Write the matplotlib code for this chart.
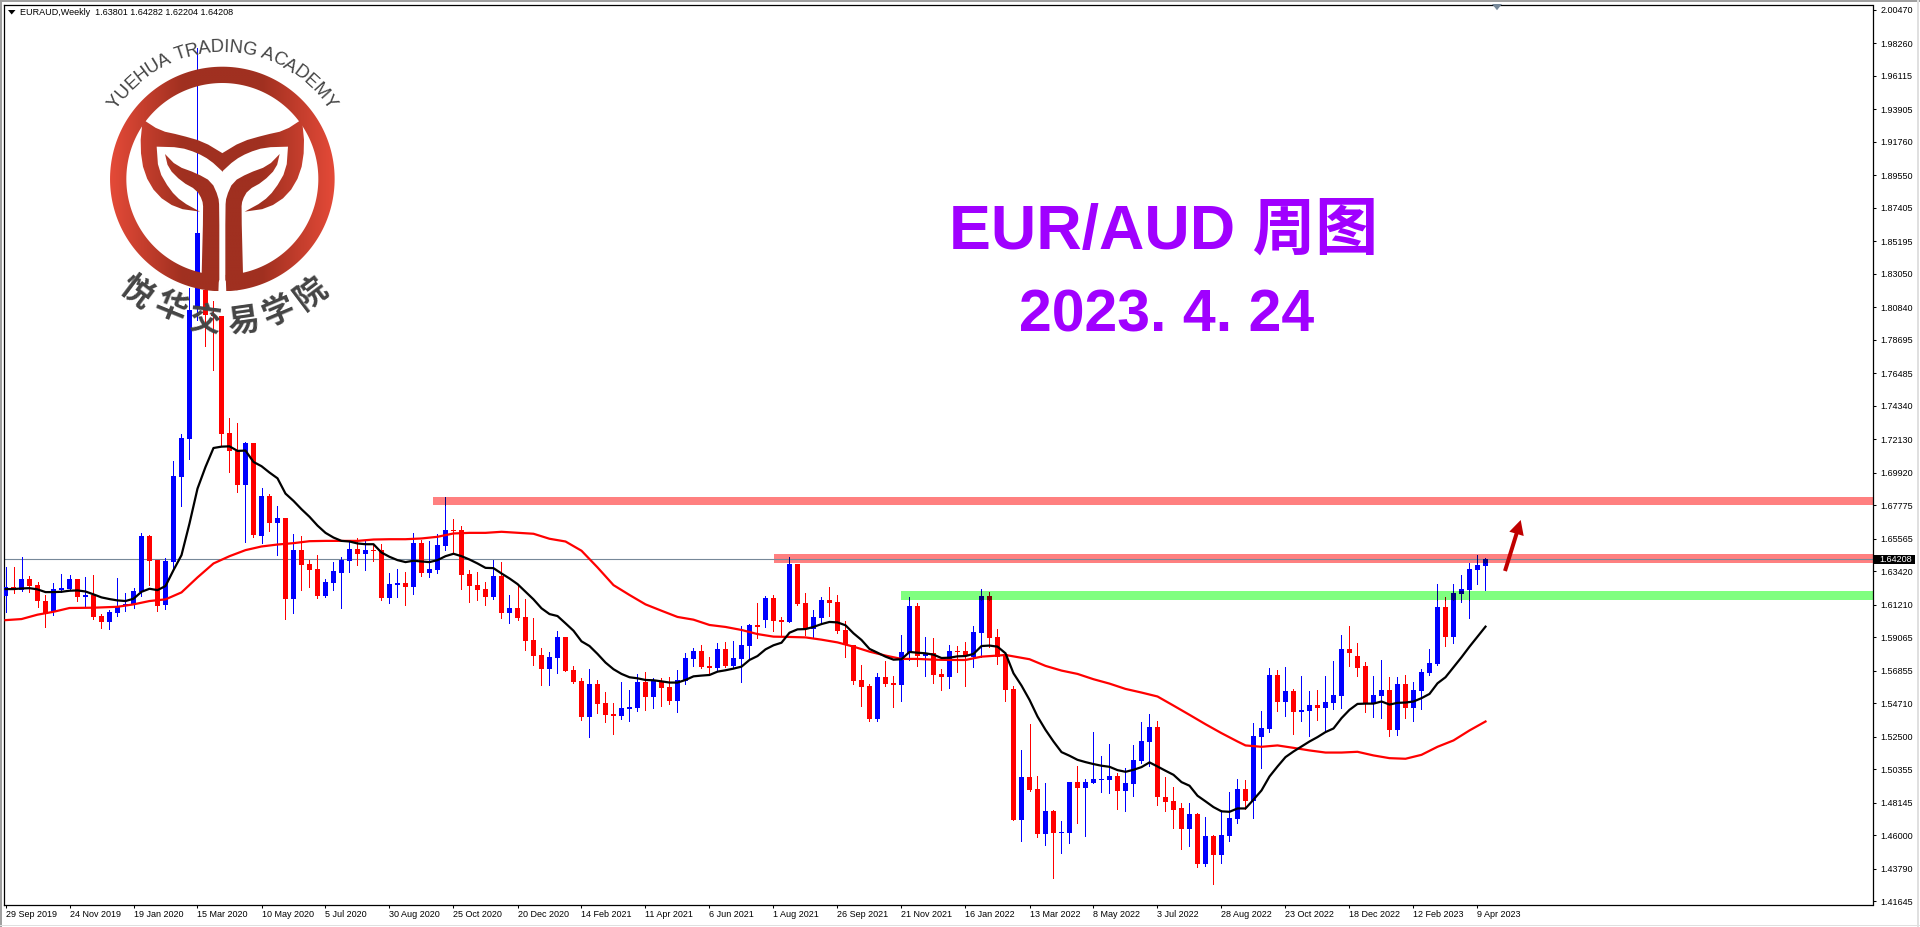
import numpy as np
import matplotlib
matplotlib.use("Agg")
import matplotlib.pyplot as plt
from matplotlib import font_manager as fm
from matplotlib.patches import Polygon, PathPatch, Rectangle
from matplotlib.path import Path

# ---------- data (prices in 1/10000) ----------
directions = ("BRBRRRBBBR" "BRRBBBBBRR" "BBBBBRRRRR" "BRBRBRBRRR" "BBBBRBRRBB"
              "RBRBBBRRRR" "RBRBRRRRBB" "RRRBRRRBBB" "RBRRBBBRRB" "RBBBRBRRBR"
              "RBBRRRRRRB" "RRBBRBRRBR" "RBBRRRRBRR" "BRBBRBBBBR" "BBBBRRRRBR"
              "BRBBBRBBBR" "BRBBRBBBRR" "RBBRBRBBBB" "RBBBBB")
body_top = [16238,16238,16291,16291,16249,16146,16225,16231,16291,16291,
16185,16185,16047,16073,16113,16126,16212,16574,16574,16416,
16409,16970,17220,18064,18578,18196,18031,18024,17253,17134,
17187,17187,16838,16838,16693,16693,16482,16482,16390,16357,
16271,16343,16416,16488,16488,16482,16482,16482,16258,16264,
16264,16528,16528,16357,16515,16614,16614,16614,16324,16251,
16225,16311,16311,16100,16100,16040,15889,15790,15777,15909,
15909,15691,15619,15599,15599,15474,15401,15441,15447,15612,
15612,15619,15612,15579,15625,15770,15816,15816,15717,15830,
15830,15770,15856,15988,15988,16166,16166,16021,16390,16390,
16133,16040,16153,16153,16139,15955,15856,15625,15586,15645,
15645,15605,15810,16113,16113,15797,15803,15665,15816,15816,
15816,15942,16179,16179,15909,15797,15566,14986,14986,14907,
14762,14762,14624,14953,14953,14953,14973,14973,14993,14993,
14947,15098,15223,15316,15316,14854,14828,14782,14742,14742,
14597,14597,14604,14716,14907,14907,15256,15309,15658,15658,
15553,15553,15428,15461,15461,15480,15527,15830,15830,15784,
15718,15527,15560,15560,15599,15599,15560,15678,15737,16107,
16107,16199,16225,16357,16383,16420.8]
body_bottom = [16179,16225,16218,16245,16146,16060,16075,16218,16225,16174,
16172,16040,16007,16007,16067,16113,16126,16205,16409,16113,
16119,16403,16963,17213,18077,18031,18024,17246,17134,16910,
16910,16581,16574,16660,16660,16159,16159,16383,16350,16179,
16179,16264,16330,16409,16455,16455,16475,16166,16166,16251,
16238,16238,16330,16330,16350,16508,16607,16317,16245,16218,
16172,16172,16067,16067,16034,15882,15783,15698,15698,15770,
15685,15612,15381,15381,15467,15395,15388,15388,15434,15441,
15513,15513,15572,15487,15487,15619,15764,15711,15704,15704,
15717,15717,15764,15849,15975,16021,16014,16008,16008,16126,
15961,15961,16034,16133,15948,15856,15619,15579,15368,15368,
15599,15592,15592,15803,15783,15783,15658,15645,15645,15810,
15783,15777,15935,15902,15777,15560,14703,14703,14900,14610,
14610,14617,14617,14617,14914,14914,14947,14966,14966,14894,
14894,14940,15092,15217,14854,14821,14769,14643,14643,14413,
14413,14472,14472,14597,14709,14828,14828,15250,15302,15480,
15480,15415,15415,15421,15441,15441,15474,15520,15803,15705,
15467,15467,15520,15296,15296,15441,15441,15553,15672,15731,
15909,15909,16192,16219,16350,16380.1]
highs = [16372,16368,16434,16311,16271,16185,16262,16324,16317,16291,
16304,16317,16060,16086,16297,16198,16231,16594,16581,16420,
16427,17068,17246,18215,19797,18210,18123,18024,17352,17319,
17194,17187,16891,16851,16772,16693,16587,16574,16416,16449,
16291,16403,16436,16548,16561,16548,16521,16521,16330,16357,
16337,16594,16548,16541,16587,16833,16686,16640,16350,16337,
16271,16420,16403,16185,16258,16159,16034,15836,15810,15948,
15909,15717,15638,15698,15625,15546,15474,15612,15559,15665,
15678,15638,15638,15645,15691,15803,15836,15856,15777,15869,
15876,15882,15981,15994,16133,16179,16185,16040,16436,16390,
16199,16087,16172,16238,16185,16014,15856,15724,15599,15671,
15750,15652,15922,16172,16133,15909,15902,15698,15856,15849,
15876,15981,16225,16205,15961,15797,15586,15164,15335,14993,
14947,14769,14696,14953,15059,14973,15283,15125,15204,15012,
15045,15197,15349,15401,15355,14986,14920,14815,14815,14749,
14722,14604,14769,14887,14973,14966,15342,15421,15705,15691,
15711,15566,15652,15553,15560,15652,15751,15922,15981,15869,
15744,15652,15757,15645,15645,15658,15612,15698,15830,16258,
16172,16258,16317,16397,16449,16428.2]
lows = [16075,16201,16214,16207,16108,15977,16053,16207,16218,16148,
16104,16029,15968,15963,16047,16082,16102,16179,16251,16082,
16093,16363,16772,17082,17998,17826,17668,17172,16996,16864,
16535,16568,16528,16607,16449,16027,16067,16218,16238,16166,
16172,16218,16100,16337,16383,16350,16409,16152,16133,16172,
16119,16192,16311,16304,16330,16482,16460,16225,16139,16152,
16119,16159,16034,16001,16021,15823,15724,15592,15592,15671,
15685,15605,15362,15250,15408,15348,15269,15368,15355,15421,
15428,15441,15454,15467,15414,15599,15717,15704,15658,15685,
15711,15711,15612,15770,15902,15975,15948,15915,16008,16120,
15922,15909,15994,16047,15935,15777,15599,15454,15355,15355,
15586,15447,15487,15757,15717,15652,15605,15559,15572,15678,
15586,15711,15777,15843,15731,15487,14703,14564,14894,14591,
14538,14320,14485,14551,14683,14597,14947,14887,14881,14775,
14762,14861,15078,15059,14802,14762,14650,14512,14531,14393,
14400,14281,14419,14564,14683,14775,14716,15045,15283,15421,
15388,15270,15355,15256,15362,15283,15434,15441,15718,15652,
15415,15382,15375,15256,15263,15375,15355,15434,15658,15724,
15850,15869,16140,16034,16258,16220.4]
black_ma = [16225,16225,16229,16231,16223,16205,16205,16207,16214,16216,
16209,16190,16170,16159,16150,16146,16161,16207,16227,16218,
16245,16350,16449,16658,16888,17031,17156,17165,17167,17137,
17139,17064,17036,16994,16956,16855,16807,16752,16702,16644,
16596,16565,16543,16539,16526,16521,16521,16466,16438,16416,
16403,16412,16407,16403,16416,16442,16458,16442,16420,16394,
16365,16363,16328,
16295,16258,16207,16157,16098,16060,16047,15999,15950,15880,
15849,15797,15740,15696,15665,15643,15636,15625,15623,15616,
15608,15608,15625,15649,15654,15658,15680,15689,15700,15713,
15757,15783,15827,15854,15871,15937,15959,15961,15975,15994,
16008,16005,15986,15933,15889,15830,15805,15779,15759,15762,
15810,15805,15801,15792,15770,15772,15781,15783,15797,15849,
15852,15845,
15801,15669,15588,15494,15384,15296,15219,15149,15125,15098,
15083,15070,15059,15052,15030,15019,15032,15050,15081,15054,
15026,14999,14951,14927,14861,14824,14786,14758,14755,14777,
14777,14835,14896,14988,15054,15116,15153,15186,15219,15248,
15281,15305,15373,15428,15467,15469,15469,15483,15463,15474,
15476,15483,15505,15533,15603,15643,15709,15775,15845,15911,
15977]
red_ma_bars = [0,2,4,6,8,11,14,16,18,20,22,24,26,28,30,32,34,36,38,40,42,44,46,48,50,52,54,56,58,60,62,
66,68,70,72,74,76,78,80,82,84,86,88,90,92,94,96,98,100,102,104,106,108,110,112,114,116,118,120,122,124,
125,128,130,132,134,136,138,140,142,144,146,148,150,152,154,155,157,159,161,163,165,167,169,171,173,175,177,179,181,183,185]
red_ma = [16020,16027,16056,16075,16100,16102,16108,16124,16146,16157,16203,16302,16394,16442,16482,16506,16519,16528,16541,16543,16543,16543,16552,16554,16554,16559,16570,16592,16596,16596,16603,
16590,16557,16539,16478,16368,16251,16186,16124,16082,16041,16023,15988,15975,15955,15928,15911,15909,15906,15891,15873,15845,15812,15786,15764,15764,15759,15757,15757,15779,15786,
15790,15762,15718,15687,15665,15630,15601,15566,15542,15516,15456,15395,15333,15274,15219,15193,15184,15193,15177,15160,15146,15146,15151,15127,15109,15105,15131,15184,15226,15292,15351]
date_labels = ["29 Sep 2019","24 Nov 2019","19 Jan 2020","15 Mar 2020","10 May 2020","5 Jul 2020",
"30 Aug 2020","25 Oct 2020","20 Dec 2020","14 Feb 2021","11 Apr 2021","6 Jun 2021","1 Aug 2021",
"26 Sep 2021","21 Nov 2021","16 Jan 2022","13 Mar 2022","8 May 2022","3 Jul 2022","28 Aug 2022",
"23 Oct 2022","18 Dec 2022","12 Feb 2023","9 Apr 2023"]
price_ticks = [2.00470,1.98260,1.96115,1.93905,1.91760,1.89550,1.87405,1.85195,1.83050,1.80840,1.78695,
1.76485,1.74340,1.72130,1.69920,1.67775,1.65565,1.63420,1.61210,1.59065,1.56855,1.54710,1.52500,
1.50355,1.48145,1.46000,1.43790,1.41645]
last_price = 1.64208
zones = [(53.5,1.67798,1.68326,"#FF8080"),(96.1,1.63970,1.64564,"#FF8080"),(112.0,1.61528,1.62122,"#80FF80")]

assert len(directions)==len(body_top)==len(body_bottom)==len(highs)==len(lows)==len(black_ma)==186
assert len(red_ma)==len(red_ma_bars)

top = np.array(body_top)/1e4; bot = np.array(body_bottom)/1e4
hi = np.array(highs)/1e4; lo = np.array(lows)/1e4
up = np.array([c=="B" for c in directions])
bars = np.arange(186)

# ---------- fonts ----------
names = {f.name for f in fm.fontManager.ttflist}
ui_font = "Liberation Sans Narrow" if "Liberation Sans Narrow" in names else "Liberation Sans"
ui_size = 7.8 if ui_font.endswith("Narrow") else 6.5

# ---------- figure ----------
W, H = 1920, 927
fig = plt.figure(figsize=(W/100, H/100), dpi=100, facecolor="white")
L, R, T, B = 3.5, 1872.5, 4.5, 904.5
ax = fig.add_axes([L/W, 1-B/H, (R-L)/W, (B-T)/H])
SL = 0.00066
ax.set_xlim((L-5.5)/8, (R-5.5)/8)
ax.set_ylim(last_price-(B-559.4)*SL, last_price+(559.4-T)*SL)

for x0,y0,y1,c in zones:
    ax.add_patch(Rectangle((x0,y0), 400, y1-y0, facecolor=c, edgecolor="none", zorder=1, antialiased=False))
ax.axhline(last_price, color="#778899", lw=0.8, zorder=1.5)

WICK = 0.68
def candles(idx, t, b, h, l, color, z):
    ax.vlines(bars[idx], l, h, color=color, lw=WICK, zorder=z, antialiased=False)
    ax.bar(bars[idx], t-b, bottom=b, width=5/8, color=color, linewidth=0, zorder=z+0.1, antialiased=False)

candles(up, top[up], bot[up], hi[up], lo[up], "#0000FF", 3)
candles(~up, top[~up], bot[~up], hi[~up], lo[~up], "#FF0000", 3)

def shade(mask, x0, y0, y1, color):
    m = mask & (bars >= x0) & (hi >= y0) & (lo <= y1)
    i = np.where(m)[0]
    if len(i)==0: return
    ax.vlines(bars[i], np.maximum(lo[i],y0), np.minimum(hi[i],y1), color=color, lw=WICK, zorder=3.3, antialiased=False)
    bt = np.maximum(bot[i],y0); tp = np.minimum(top[i],y1)
    k = tp>bt
    ax.bar(bars[i][k], (tp-bt)[k], bottom=bt[k], width=5/8, color=color, linewidth=0, zorder=3.4, antialiased=False)
for x0,y0,y1,c in zones:
    shade(up, x0, y0, y1, "#000080")
    if c=="#80FF80":
        shade(~up, x0, y0, y1, "#800000")

ax.plot(red_ma_bars, np.array(red_ma)/1e4, color="#FF0000", lw=1.6, zorder=4, solid_joinstyle="round")
ax.plot(bars, np.array(black_ma)/1e4, color="#000000", lw=1.6, zorder=5, solid_joinstyle="round")

for s in ax.spines.values():
    s.set_linewidth(0.9); s.set_color("black")
ax.yaxis.tick_right()
ax.set_yticks(price_ticks)
ax.set_yticklabels([f"{p:.5f}" for p in price_ticks], fontfamily=ui_font, fontsize=ui_size)
ax.set_xticks(bars[::8])
ax.set_xticklabels(date_labels, fontfamily=ui_font, fontsize=ui_size, ha="left")
ax.tick_params(axis="y", length=2.4, width=0.75, pad=3.2, colors="black")
ax.tick_params(axis="x", length=2.4, width=0.75, pad=1.5, colors="black")

# ---------- overlay in pixel coordinates ----------
ov = fig.add_axes([0,0,1,1], facecolor="none", zorder=10)
ov.set_xlim(0,W); ov.set_ylim(H,0); ov.axis("off")

ov.add_patch(Rectangle((0,0),W,1.6,color="#A0A0A0",lw=0))
ov.add_patch(Rectangle((0,0),1.6,H,color="#A0A0A0",lw=0))
ov.add_patch(Rectangle((W-3,0),1.5,H,color="#E0E0E0",lw=0))
ov.add_patch(Rectangle((0,H-2.5),W,1.5,color="#E0E0E0",lw=0))

ov.add_patch(Polygon([(8,10),(15.5,10),(11.7,14.5)],closed=True,color="black",lw=0))
ov.text(20,12.5,"EURAUD,Weekly  1.63801 1.64282 1.62204 1.64208",fontfamily=ui_font,fontsize=ui_size,va="center",ha="left",color="black")
ov.add_patch(Polygon([(1492,4),(1502,4),(1497,10.2)],closed=True,color="#778899",lw=0))
yp = 559.4
ov.add_patch(Rectangle((1874,yp-4.6),41,9.2,color="black",lw=0))
ov.text(1879,yp,f"{last_price:.5f}",fontfamily=ui_font,fontsize=ui_size,color="white",va="center",ha="left")

PURPLE = "#A000FF"
ov.text(949,249,"EUR/AUD 周图",fontfamily=["Liberation Sans","Noto Sans CJK SC"],fontweight="bold",fontsize=45.2,color=PURPLE,ha="left",va="baseline")
ov.text(1019,331.5,"2023. 4. 24",fontfamily=["Liberation Sans","Noto Sans CJK SC"],fontweight="bold",fontsize=42.5,color=PURPLE,ha="left",va="baseline")

ov.add_patch(Polygon([(1503.1,570.4),(1514.6,533.2),(1509.3,531.7),(1520.7,520),(1523.7,536),(1518.4,534.4),(1506.9,571.6)],
                     closed=True,color="#C00000",lw=0))

# ---------- logo ----------
def chaikin(p, n=1):
    p = np.asarray(p,float)
    for _ in range(n):
        q = np.roll(p,-1,axis=0)
        p = np.column_stack([0.75*p+0.25*q,0.25*p+0.75*q]).reshape(-1,2)
    return p
def mirror(p, cx):
    p = np.asarray(p,float).copy()
    p[:,0] = 2*cx-p[:,0]
    return p[::-1]
def sharp(points, corners):
    out = []
    for k,p in enumerate(points):
        out.append(p)
        if k in corners:
            out.extend([p,p])
    return out
crown = sharp([(428,358),(480,392),(540,405),(610,425),(668,460),(668,515),(630,480),(590,458),(540,442),(470,440),
         (475,510),(510,570),(545,605),(600,635),(530,625),(470,585),(432,520),(420,440)],{0,4,5,9,13})
trunk = sharp([(495,462),(530,498),(590,520),(635,545),(655,590),(658,620),(658,840),(645,865),(615,873),(605,822),
         (610,625),(607,600),(590,570),(545,545),(505,505)],{0,6,9})
cx, cy = 667/3, 537/3
ro, ri = 112.3, 96.0
th = np.radians(np.linspace(92,448,240))
ring = np.vstack([np.column_stack([cx+ro*np.cos(th),cy+ro*np.sin(th)]),
                  np.column_stack([cx+ri*np.cos(th[::-1]),cy+ri*np.sin(th[::-1])])])
shapes = [ring]
for s in (crown,trunk):
    sp = chaikin(np.asarray(s,float)/3.0,1)
    shapes += [sp, mirror(sp,cx)]
xs = np.linspace(-1,1,300)
w_ = np.clip((np.abs(xs)-0.35)/0.65,0,1)
dark = np.array([160,48,32])/255; bright = np.array([228,74,56])/255
grad = (dark[None,:]*(1-w_[:,None])+bright[None,:]*w_[:,None])[None,:,:]
for poly in shapes:
    im = ov.imshow(grad,extent=(cx-ro,cx+ro,cy+ro,cy-ro),aspect="auto",zorder=6,interpolation="bilinear")
    patch = PathPatch(Path(np.vstack([poly,poly[0]]),closed=True),transform=ov.transData,facecolor="none",edgecolor="none")
    im.set_clip_path(patch)
ov.set_xlim(0,W); ov.set_ylim(H,0)

GREY = "#444444"
letters = "YUEHUA TRADING ACADEMY"
adv = dict(Y=667,U=722,E=667,H=722,A=667,T=611,R=722,D=722,I=278,N=722,G=778,C=722,M=833)
adv[" "] = 278
fs_px = 18.4
widths = np.array([adv[c] for c in letters])*fs_px/1000
centers = np.cumsum(widths)-widths/2-widths.sum()/2
rad = 131.5
for ch,c in zip(letters,centers):
    a = c/rad
    if ch==" ": continue
    ov.text(cx+rad*np.sin(a),cy-rad*np.cos(a),ch,fontfamily="Liberation Sans",fontsize=fs_px*0.72,color=GREY,
            rotation=-np.degrees(a),rotation_mode="anchor",ha="center",va="center",zorder=7)
for ch,(zx,zy),rot in zip("悦华交易学院",[(405,880),(510,925),(615,962),(730,965),(835,935),(935,880)],[-37,-22,-7,8,23,37]):
    ov.text(zx/3,zy/3,ch,fontfamily=["Noto Sans CJK SC","DejaVu Sans"],fontweight="bold",fontsize=23,color=GREY,
            rotation=rot,rotation_mode="anchor",ha="center",va="center",zorder=7)

fig.savefig("out.png",dpi=100,facecolor="white")
